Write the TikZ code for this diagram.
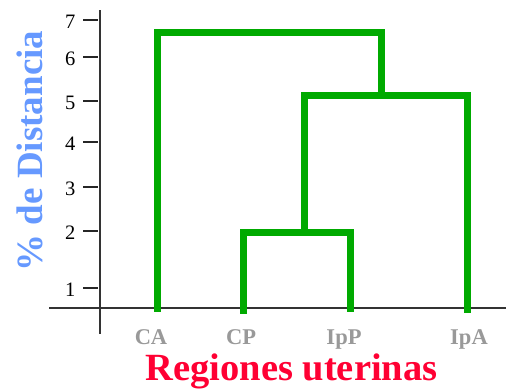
\documentclass[tikz,border=0pt]{standalone}
\usepackage{fontspec}
\setmainfont{Liberation Serif}
\begin{document}
\begin{tikzpicture}[x=1pt,y=-1pt,
  axis/.style={line width=1.4pt,black!80},
  tickline/.style={line width=1.4pt,black!85},
  ticklab/.style={anchor=east,inner sep=0pt,font=\fontsize{20.5}{20.5}\selectfont},
  leaflab/.style={anchor=base,inner sep=0pt,text=gray!80,font=\fontsize{22.5}{22.5}\selectfont\bfseries},
  dendro/.style={line width=7pt,draw=dgreen,line join=miter,line cap=rect}]
\definecolor{dgreen}{HTML}{00AA00}
\definecolor{tblue}{HTML}{6699FF}
\definecolor{tred}{HTML}{FF0033}
\useasboundingbox (0,0) rectangle (506,389);
% axes
\coordinate (ytop) at (100,10);
\coordinate (ybot) at (100,334);
\coordinate (xl) at (49,308);
\coordinate (xr) at (506,308);
\draw[axis] (ytop) -- (ybot);
\draw[axis] (xl) -- (xr);
% ticks
\foreach \v/\y in {7/20,6/57,5/101,4/142,3/187,2/231,1/288}{
  \coordinate (t\v a) at (83,\y);
  \coordinate (t\v b) at (98,\y);
  \draw[tickline] (t\v a) -- (t\v b);
  \node[ticklab] (tl\v) at (75.5,\y+1.5) {\v};
}
% leaf labels
\node[leaflab] (CA) at (151,344) {CA};
\node[leaflab] (CP) at (241,344) {CP};
\node[leaflab] (IpP) at (344,344) {IpP};
\node[leaflab] (IpA) at (469,344) {IpA};
% dendrogram coordinates
\coordinate (ca0) at (157,308);
\coordinate (cp0) at (243,310);
\coordinate (ipp0) at (350,308);
\coordinate (ipa0) at (467,309);
\coordinate (j1l) at (243,232.5);
\coordinate (j1r) at (350,232.5);
\coordinate (j1m) at (304,232.5);
\coordinate (j2l) at (304,95.5);
\coordinate (j2r) at (467,95.5);
\coordinate (j2m) at (381,95.5);
\coordinate (j3l) at (157,32.5);
\coordinate (j3r) at (381,32.5);
\draw[dendro] (cp0) -- (j1l) -- (j1r) -- (ipp0);
\draw[dendro] (j1m) -- (j2l) -- (j2r) -- (ipa0);
\draw[dendro] (ca0) -- (j3l) -- (j3r) -- (j2m);
% titles
\node[anchor=base,inner sep=0pt,text=tred,font=\fontsize{38.5}{38.5}\selectfont\bfseries] (xtitle) at (291.5,380) {Regiones uterinas};
\node[rotate=90,inner sep=0pt,text=tblue,font=\fontsize{37}{37}\selectfont\bfseries] (ytitle) at (30,151) {\% de Distancia};
\end{tikzpicture}
\end{document}
